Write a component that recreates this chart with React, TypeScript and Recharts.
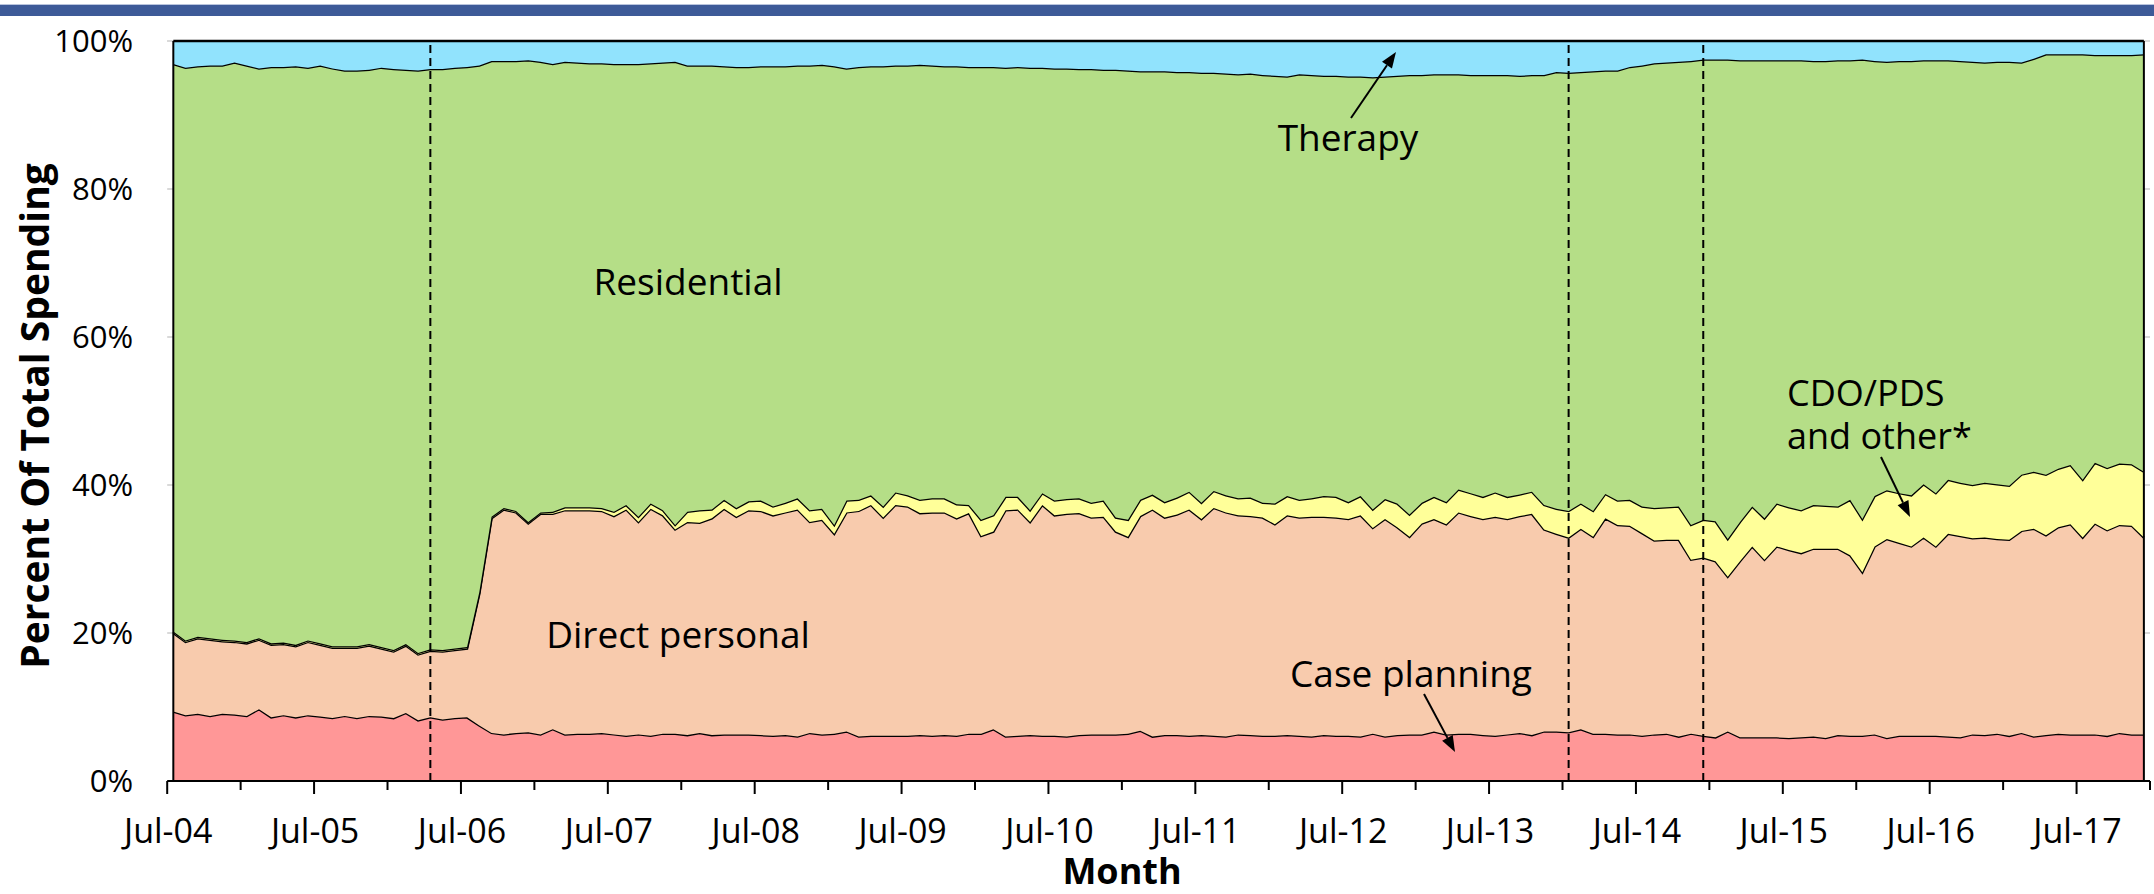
import React from 'react';
import { AreaChart, Area, XAxis, YAxis, CartesianGrid, ReferenceLine } from 'recharts';

// Share of total spending (%), monthly Jul-04 .. Dec-17
const casePlanning = [
  9.4, 8.9, 9.1, 8.8, 9.1, 9.0, 8.8, 9.7, 8.6, 8.9, 8.6, 8.9,
  8.7, 8.5, 8.8, 8.5, 8.8, 8.7, 8.5, 9.2, 8.2, 8.6, 8.3, 8.5,
  8.6, 7.5, 6.5, 6.3, 6.5, 6.6, 6.3, 7.0, 6.3, 6.4, 6.4, 6.5,
  6.3, 6.1, 6.3, 6.1, 6.4, 6.4, 6.2, 6.5, 6.2, 6.3, 6.3, 6.3,
  6.2, 6.1, 6.2, 6.0, 6.5, 6.3, 6.4, 6.7, 6.0, 6.1, 6.1, 6.1,
  6.1, 6.2, 6.1, 6.2, 6.1, 6.4, 6.4, 7.0, 6.0, 6.1, 6.2, 6.1,
  6.1, 6.0, 6.2, 6.3, 6.3, 6.3, 6.4, 6.8, 6.0, 6.2, 6.2, 6.1,
  6.2, 6.1, 6.0, 6.3, 6.2, 6.1, 6.1, 6.2, 6.1, 6.0, 6.2, 6.1,
  6.1, 6.0, 6.4, 6.0, 6.2, 6.3, 6.3, 6.7, 6.3, 6.4, 6.4, 6.2,
  6.1, 6.3, 6.5, 6.2, 6.7, 6.7, 6.6, 7.0, 6.4, 6.4, 6.3, 6.3,
  6.1, 6.3, 6.4, 6.0, 6.4, 6.1, 5.9, 6.7, 5.9, 5.9, 5.9, 5.9,
  5.8, 5.9, 6.0, 5.8, 6.2, 6.1, 6.1, 6.3, 5.8, 6.1, 6.1, 6.1,
  6.1, 6.0, 5.9, 6.3, 6.2, 6.4, 6.1, 6.5, 6.0, 6.2, 6.4, 6.3,
  6.3, 6.3, 6.1, 6.5, 6.3, 6.3,
];

const directPersonal = [
  10.6, 9.9, 10.2, 10.3, 9.8, 9.8, 9.8, 9.4, 9.8, 9.6, 9.6, 9.9,
  9.7, 9.5, 9.2, 9.5, 9.5, 9.2, 9.0, 9.1, 8.9, 9.0, 9.2, 9.2,
  9.3, 17.8, 29.0, 30.4, 29.8, 28.2, 29.8, 29.1, 30.3, 30.2, 30.2, 30.0,
  29.5, 30.6, 28.7, 30.7, 29.5, 27.6, 28.8, 28.4, 29.3, 30.5, 29.4, 30.3,
  30.3, 29.8, 30.1, 30.7, 28.5, 29.0, 27.0, 29.6, 30.5, 31.2, 29.5, 31.2,
  31.0, 30.0, 30.2, 30.1, 29.4, 29.8, 26.7, 26.7, 30.6, 30.6, 28.8, 31.2,
  29.8, 30.1, 30.0, 29.3, 29.4, 27.4, 26.6, 29.0, 30.7, 29.4, 29.8, 30.6,
  29.2, 30.8, 30.3, 29.6, 29.6, 29.5, 28.6, 29.7, 29.5, 29.7, 29.5, 29.5,
  29.3, 29.9, 27.8, 29.4, 28.1, 26.7, 28.5, 28.7, 28.4, 29.9, 29.4, 29.2,
  29.6, 29.1, 29.3, 29.9, 27.3, 26.7, 26.3, 27.1, 26.6, 29.1, 28.3, 28.2,
  27.4, 26.2, 26.2, 26.6, 23.5, 24.1, 23.8, 20.9, 23.8, 25.8, 24.0, 25.8,
  25.4, 24.9, 25.4, 25.6, 25.2, 24.4, 22.1, 25.4, 26.9, 26.1, 25.6, 26.8,
  25.6, 27.4, 27.2, 26.5, 26.7, 26.3, 26.5, 27.3, 28.1, 27.0, 27.9, 28.4,
  26.6, 28.5, 27.8, 28.1, 28.2, 26.6,
];

const cdoPdsOther = [
  0.2, 0.2, 0.2, 0.2, 0.2, 0.2, 0.2, 0.2, 0.2, 0.2, 0.2, 0.2,
  0.2, 0.2, 0.2, 0.2, 0.2, 0.2, 0.2, 0.2, 0.2, 0.2, 0.2, 0.2,
  0.2, 0.2, 0.2, 0.2, 0.2, 0.2, 0.2, 0.3, 0.4, 0.4, 0.4, 0.4,
  0.6, 0.6, 0.7, 0.7, 0.7, 0.6, 1.4, 1.7, 1.2, 1.2, 1.2, 1.2,
  1.4, 1.2, 1.3, 1.5, 1.6, 1.5, 1.2, 1.6, 1.5, 1.3, 1.5, 1.7,
  1.5, 1.8, 1.9, 1.9, 1.9, 1.1, 2.2, 2.2, 1.8, 1.7, 1.6, 1.6,
  2.0, 2.0, 2.0, 2.0, 2.2, 1.9, 2.3, 2.2, 2.0, 2.1, 2.3, 2.4,
  2.2, 2.3, 2.3, 2.3, 2.5, 2.0, 2.8, 2.6, 2.4, 2.5, 2.8, 2.8,
  2.3, 2.6, 2.5, 2.7, 3.2, 3.0, 2.8, 3.0, 3.0, 3.1, 3.1, 3.0,
  3.3, 3.0, 2.9, 3.0, 3.3, 3.4, 3.6, 3.4, 3.5, 3.3, 3.3, 3.5,
  3.6, 4.4, 4.4, 4.5, 4.7, 5.1, 5.4, 5.1, 5.3, 5.4, 5.6, 5.8,
  5.8, 5.8, 5.9, 5.8, 5.7, 7.5, 7.2, 6.8, 6.6, 6.7, 6.9, 7.2,
  7.2, 7.3, 7.2, 7.2, 7.4, 7.4, 7.3, 7.6, 7.7, 8.2, 7.9, 8.0,
  7.8, 8.2, 8.4, 8.3, 8.3, 8.9,
];

const residential = [
  76.7, 77.4, 77.1, 77.4, 77.6, 78.1, 77.9, 77.0, 77.9, 77.8, 78.2, 77.4,
  78.1, 78.1, 77.8, 77.8, 77.6, 78.3, 78.5, 77.6, 78.7, 78.4, 78.5, 78.5,
  78.4, 71.2, 61.6, 60.4, 60.8, 62.4, 60.9, 60.5, 60.2, 60.1, 60.0, 60.1,
  60.5, 59.6, 61.2, 59.5, 60.5, 62.6, 60.3, 60.1, 60.0, 58.6, 59.6, 58.7,
  58.7, 59.5, 59.0, 58.5, 60.1, 60.0, 62.0, 58.4, 58.5, 58.0, 59.5, 57.7,
  58.1, 58.8, 58.5, 58.4, 59.2, 59.2, 61.2, 60.6, 58.0, 58.1, 59.8, 57.5,
  58.4, 58.2, 58.0, 58.6, 58.2, 60.5, 60.7, 57.9, 57.2, 58.2, 57.5, 56.7,
  58.1, 56.5, 57.0, 57.3, 57.3, 57.8, 57.8, 56.7, 57.5, 57.2, 56.8, 56.9,
  57.5, 56.7, 58.4, 57.1, 57.8, 59.4, 57.8, 57.1, 57.8, 56.1, 56.5, 57.0,
  56.4, 57.0, 56.6, 56.3, 58.1, 59.0, 59.2, 58.3, 59.4, 57.2, 58.1, 58.5,
  59.6, 60.1, 60.1, 60.1, 62.7, 62.2, 62.4, 64.8, 62.4, 60.3, 61.9, 59.9,
  60.4, 60.8, 60.0, 60.1, 60.3, 59.4, 62.1, 58.8, 57.9, 58.4, 58.7, 57.3,
  58.5, 56.7, 57.0, 57.2, 56.8, 57.1, 57.3, 55.7, 55.8, 56.8, 56.0, 55.5,
  57.5, 55.1, 55.8, 55.2, 55.3, 56.4,
];

const therapy = [
  3.1, 3.6, 3.4, 3.3, 3.3, 2.9, 3.3, 3.7, 3.5, 3.5, 3.4, 3.6,
  3.3, 3.7, 4.0, 4.0, 3.9, 3.6, 3.8, 3.9, 4.0, 3.8, 3.8, 3.6,
  3.5, 3.3, 2.7, 2.7, 2.7, 2.6, 2.8, 3.1, 2.8, 2.9, 3.0, 3.0,
  3.1, 3.1, 3.1, 3.0, 2.9, 2.8, 3.3, 3.3, 3.3, 3.4, 3.5, 3.5,
  3.4, 3.4, 3.4, 3.3, 3.3, 3.2, 3.4, 3.7, 3.5, 3.4, 3.4, 3.3,
  3.3, 3.2, 3.3, 3.4, 3.4, 3.5, 3.5, 3.5, 3.6, 3.5, 3.6, 3.6,
  3.7, 3.7, 3.8, 3.8, 3.9, 3.9, 4.0, 4.1, 4.1, 4.1, 4.2, 4.2,
  4.3, 4.3, 4.4, 4.5, 4.4, 4.6, 4.7, 4.8, 4.5, 4.6, 4.7, 4.7,
  4.8, 4.8, 4.9, 4.8, 4.7, 4.6, 4.6, 4.5, 4.5, 4.5, 4.6, 4.6,
  4.6, 4.6, 4.7, 4.6, 4.6, 4.2, 4.3, 4.2, 4.1, 4.0, 4.0, 3.5,
  3.3, 3.0, 2.9, 2.8, 2.7, 2.5, 2.5, 2.5, 2.6, 2.6, 2.6, 2.6,
  2.6, 2.6, 2.7, 2.7, 2.6, 2.6, 2.5, 2.7, 2.8, 2.7, 2.7, 2.6,
  2.6, 2.6, 2.7, 2.8, 2.9, 2.8, 2.8, 2.9, 2.4, 1.8, 1.8, 1.8,
  1.8, 1.9, 1.9, 1.9, 1.9, 1.8,
];

const tickLabels = [
  'Jul-04', 'Jul-05', 'Jul-06', 'Jul-07', 'Jul-08', 'Jul-09', 'Jul-10',
  'Jul-11', 'Jul-12', 'Jul-13', 'Jul-14', 'Jul-15', 'Jul-16', 'Jul-17',
];
const yTicks = [0, 20, 40, 60, 80, 100];
const markerMonths = ['Apr-06', 'Jan-14', 'Dec-14'];

const MONTH_NAMES = ['Jan', 'Feb', 'Mar', 'Apr', 'May', 'Jun', 'Jul', 'Aug', 'Sep', 'Oct', 'Nov', 'Dec'];
// months starting at Jul-04
const categories = casePlanning.map((_, i) => {
  const m = 6 + i;
  return `${MONTH_NAMES[m % 12]}-${String(4 + Math.floor(m / 12)).padStart(2, '0')}`;
});

const data = categories.map((month, i) => ({
  idx: i,
  month,
  casePlanning: casePlanning[i],
  directPersonal: directPersonal[i],
  cdoPdsOther: cdoPdsOther[i],
  residential: residential[i],
  therapy: therapy[i],
}));

const markerIdx = markerMonths.map((m) => categories.indexOf(m));
const lastIdx = categories.length - 1;

const W = 2154;
const H = 894;
const PLOT_LEFT = 167.2;
const PLOT_RIGHT = 2150;
const PLOT_TOP = 41;
const PLOT_BOTTOM = 781;
const FONT = '"Open Sans", "Noto Sans", sans-serif';

// tick marks sit on month boundaries, every 6 months
const xTicks: number[] = [];
for (let k = 0; k * 6 <= categories.length; k++) xTicks.push(k * 6 - 0.5);

const MonthTick = (props: any) => {
  const { x, y, payload } = props;
  const m = Math.round(payload.value + 0.5);
  const major = m % 12 === 0;
  const label = major ? tickLabels[m / 12] : undefined;
  return (
    <g>
      <line x1={x} y1={y} x2={x} y2={y + (major ? 13 : 9)} stroke="#000" strokeWidth={2} />
      {label && (
        <text x={x + 1} y={y + 62} textAnchor="middle" fontSize={34} fill="#000" fontFamily={FONT}>
          {label}
        </text>
      )}
    </g>
  );
};

const PercentTick = (props: any) => {
  const { x, y, payload } = props;
  return (
    <text x={x - 34} y={y} dy="0.36em" textAnchor="end" fontSize={31} fill="#000" fontFamily={FONT}>
      {payload.value}%
    </text>
  );
};

function Arrow({ x1, y1, x2, y2 }: { x1: number; y1: number; x2: number; y2: number }) {
  const len = Math.hypot(x2 - x1, y2 - y1);
  const ux = (x2 - x1) / len;
  const uy = (y2 - y1) / len;
  const headL = 16;
  const headW = 6;
  const bx = x2 - ux * headL;
  const by = y2 - uy * headL;
  const pts = `${x2},${y2} ${bx - uy * headW},${by + ux * headW} ${bx + uy * headW},${by - ux * headW}`;
  return (
    <g>
      <line x1={x1} y1={y1} x2={bx} y2={by} stroke="#000" strokeWidth={2} />
      <polygon points={pts} fill="#000" />
    </g>
  );
}

export default function App() {
  const areaCommon = {
    type: 'linear' as const,
    stackId: 'share',
    stroke: '#000',
    strokeWidth: 2.5,
    fillOpacity: 1,
    dot: false,
    activeDot: false,
    isAnimationActive: false,
  };

  return (
    <div style={{ position: 'absolute', left: 0, top: 0, width: W, height: H, background: '#fff', fontFamily: FONT }}>
      <AreaChart
        width={W}
        height={H}
        data={data}
        margin={{ top: PLOT_TOP, right: W - PLOT_RIGHT, bottom: 0, left: 0 }}
      >
        <CartesianGrid horizontal vertical={false} stroke="#d9d9d9" strokeWidth={2} />
        <XAxis
          type="number"
          dataKey="idx"
          domain={[-0.5, categories.length - 0.5]}
          ticks={xTicks}
          interval={0}
          tickSize={0}
          tickMargin={0}
          tickLine={false}
          axisLine={{ stroke: '#000', strokeWidth: 2 }}
          tick={<MonthTick />}
          height={H - PLOT_BOTTOM}
        />
        <YAxis
          type="number"
          domain={[0, 100]}
          ticks={yTicks}
          width={PLOT_LEFT}
          tickSize={0}
          tickMargin={0}
          tickLine={false}
          axisLine={false}
          tick={<PercentTick />}
        />
        <Area {...areaCommon} dataKey="casePlanning" name="Case planning" fill="#FF9797" />
        <Area {...areaCommon} dataKey="directPersonal" name="Direct personal" fill="#F8CBAD" />
        <Area {...areaCommon} dataKey="cdoPdsOther" name="CDO/PDS and other*" fill="#FFFF99" />
        <Area {...areaCommon} dataKey="residential" name="Residential" fill="#B5DE87" />
        <Area {...areaCommon} dataKey="therapy" name="Therapy" fill="#91E3FD" />
        <ReferenceLine x={0} stroke="#000" strokeWidth={2} />
        <ReferenceLine x={lastIdx} stroke="#000" strokeWidth={2} />
        {markerIdx.map((i) => (
          <ReferenceLine key={i} x={i} stroke="#000" strokeWidth={2} strokeDasharray="8 5" />
        ))}
      </AreaChart>

      <svg width={W} height={H} style={{ position: 'absolute', left: 0, top: 0, pointerEvents: 'none' }} fontFamily={FONT}>
        <rect x={0} y={4} width={W} height={1} fill="#b9c4dd" />
        <rect x={0} y={5} width={W} height={11} fill="#3d5a98" />
        <text x={49} y={416} transform="rotate(-90 49 416)" textAnchor="middle" fontWeight={700} fontSize={39} fill="#000">
          Percent Of Total Spending
        </text>
        <text x={1122} y={884} textAnchor="middle" fontWeight={700} fontSize={36} fill="#000">
          Month
        </text>
        <text x={688} y={295} textAnchor="middle" fontSize={37} fill="#000">Residential</text>
        <text x={678} y={648} textAnchor="middle" fontSize={37} fill="#000">Direct personal</text>
        <text x={1411} y={687} textAnchor="middle" fontSize={37} fill="#000">Case planning</text>
        <text x={1787} y={406} fontSize={36} fill="#000">CDO/PDS</text>
        <text x={1787} y={449} fontSize={36} fill="#000">and other*</text>
        <text x={1348} y={151} textAnchor="middle" fontSize={37} fill="#000">Therapy</text>
        <Arrow x1={1351} y1={118} x2={1396} y2={52} />
        <Arrow x1={1424} y1={694} x2={1455} y2={752} />
        <Arrow x1={1881} y1={457} x2={1910} y2={517} />
      </svg>
    </div>
  );
}
